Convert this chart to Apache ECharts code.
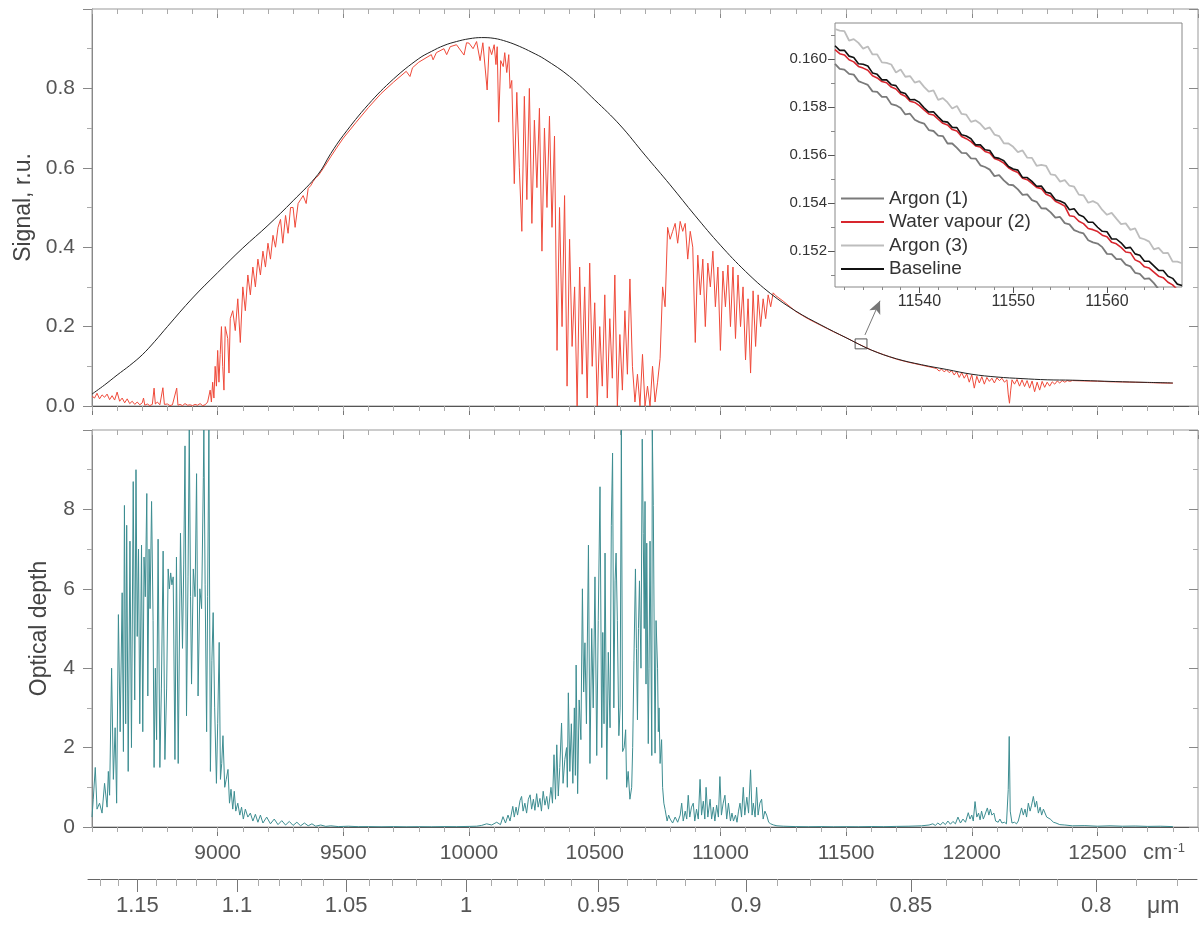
<!DOCTYPE html>
<html><head><meta charset="utf-8">
<script src="https://cdn.jsdelivr.net/npm/echarts@6/dist/echarts.min.js"></script>
<style>html,body{margin:0;padding:0;background:#fff}#c{width:1204px;height:926px}</style>
</head><body><div id="c"></div><script>
// ---------------- data ----------------
// wavenumber axis, cm-1
const wnMin = 8500, wnMax = 12900;
// micrometre tick labels (secondary axis) and minor ticks
const umLabels = [1.15, 1.1, 1.05, 1, 0.95, 0.9, 0.85, 0.8];
const umMinor = [1.17,1.16,1.14,1.13,1.12,1.11,1.09,1.08,1.07,1.06,1.04,1.03,1.02,1.01,0.99,0.98,0.97,0.96,0.94,0.93,0.92,0.91,0.89,0.88,0.87,0.86,0.84,0.83,0.82,0.81,0.79,0.78];

// baseline signal [cm-1, r.u.]
const baselineSignal = [[8500,0.030],[8550,0.053],[8600,0.078],[8650,0.102],[8700,0.129],[8750,0.163],[8800,0.200],[8900,0.272],[9000,0.336],[9100,0.398],[9200,0.455],[9300,0.517],[9400,0.584],[9450,0.636],[9500,0.682],[9600,0.760],[9700,0.824],[9800,0.875],[9850,0.893],[9900,0.908],[9950,0.918],[10000,0.925],[10050,0.928],[10100,0.926],[10150,0.918],[10200,0.906],[10250,0.891],[10300,0.874],[10400,0.830],[10500,0.771],[10600,0.708],[10700,0.632],[10800,0.557],[10900,0.479],[11000,0.405],[11100,0.339],[11200,0.283],[11300,0.239],[11400,0.204],[11500,0.172],[11600,0.141],[11700,0.119],[11800,0.104],[11900,0.092],[12000,0.080],[12100,0.073],[12200,0.069],[12300,0.066],[12400,0.065],[12500,0.063],[12600,0.061],[12700,0.0595],[12800,0.058]];

// measured signal with absorption [cm-1, r.u.]
const measuredSignal = [
[8500,0.025],[8510,0.02],[8520,0.032],[8530,0.018],[8540,0.028],[8550,0.022],[8560,0.03],[8570,0.016],[8580,0.026],[8590,0.015],
[8600,0.035],[8610,0.012],[8620,0.02],[8630,0.008],[8640,0.018],[8650,0.006],[8660,0.012],[8670,0.004],[8680,0.01],[8690,0.003],
[8700,0.008],[8705,0.02],[8710,0.002],[8720,0.005],[8730,0.001],[8740,0.004],[8747,0.045],[8752,0.005],[8760,0.01],[8770,0.003],[8782,0.046],[8788,0.004],[8795,0.002],
[8800,0.005],[8810,0.001],[8820,0.003],[8837,0.045],[8842,0.002],[8850,0.004],[8860,0.001],[8870,0.006],[8880,0.002],[8890,0.003],
[8900,0.001],[8910,0.004],[8920,0.002],[8930,0.006],[8940,0.001],[8950,0.003],[8960,0.01],[8970,0.04],[8975,0.01],[8980,0.06],[8985,0.02],[8990,0.1],[8995,0.05],
[9000,0.14],[9005,0.06],[9010,0.13],[9015,0.2],[9020,0.1],[9025,0.04],[9030,0.2],[9040,0.17],[9045,0.083],[9050,0.22],[9060,0.24],[9070,0.19],[9080,0.27],[9090,0.16],
[9100,0.3],[9110,0.24],[9120,0.33],[9130,0.28],[9140,0.35],[9150,0.3],[9160,0.37],[9170,0.33],[9180,0.39],[9190,0.35],
[9200,0.41],[9210,0.37],[9220,0.43],[9230,0.4],[9240,0.45],[9250,0.47],[9259,0.41],[9270,0.48],[9280,0.435],[9290,0.5],
[9300,0.5],[9308,0.45],[9320,0.51],[9330,0.52],[9340,0.53],[9352,0.51],[9360,0.548],[9370,0.555],[9380,0.566],[9390,0.575],[9400,0.58],
[9425,0.603],[9450,0.628],[9475,0.652],[9500,0.675],[9550,0.714],[9600,0.752],[9650,0.787],[9700,0.816],[9750,0.843],[9765,0.83],[9775,0.852],[9800,0.866],[9850,0.885],[9857,0.872],[9870,0.89],[9900,0.9],[9911,0.885],[9925,0.905],[9950,0.91],[9980,0.884],[9990,0.915],[10000,0.914],[10016,0.9],[10030,0.918],[10044,0.87],[10055,0.915],[10072,0.796],[10080,0.905],[10090,0.885],[10100,0.91],[10107,0.86],[10112,0.905],[10118,0.715],[10126,0.87],[10136,0.855],[10142,0.89],[10150,0.84],[10158,0.885],[10163,0.8],
[10170,0.82],[10180,0.56],[10190,0.79],[10200,0.6],[10210,0.44],[10220,0.78],[10230,0.52],[10240,0.8],[10250,0.46],[10260,0.72],[10270,0.55],[10280,0.75],[10290,0.39],[10300,0.7],[10310,0.5],[10320,0.73],[10330,0.45],[10340,0.68],[10350,0.14],[10360,0.5],[10370,0.2],[10380,0.53],[10390,0.05],[10400,0.42],[10410,0.15],[10420,0.3],[10430,0.0],[10440,0.35],
[10450,0.08],[10460,0.3],[10470,0.02],[10480,0.36],[10490,0.1],[10500,0.26],[10510,0.0],[10520,0.2],[10530,0.05],[10540,0.28],[10550,0.02],[10560,0.22],[10570,0.07],[10580,0.33],[10590,0.0],[10600,0.18],[10610,0.04],[10620,0.24],[10630,0.08],[10640,0.32],[10650,0.1],[10660,0.01],[10670,0.08],[10680,0.0],[10690,0.13],[10700,0.0],[10710,0.05],[10720,0.0],[10730,0.1],[10740,0.01],[10750,0.06],[10760,0.12],[10770,0.3],[10780,0.25],[10790,0.45],[10800,0.42],
[10810,0.44],[10820,0.46],[10830,0.41],[10840,0.465],[10850,0.44],[10860,0.46],[10870,0.37],[10880,0.44],[10890,0.4],[10900,0.16],[10910,0.38],[10920,0.28],[10930,0.37],[10940,0.2],[10950,0.36],[10960,0.3],[10970,0.39],[10980,0.25],[10990,0.35],[11000,0.14],[11010,0.34],[11020,0.25],[11030,0.355],[11040,0.2],[11050,0.35],[11060,0.17],[11070,0.33],[11080,0.2],[11090,0.3],[11100,0.116],[11110,0.27],[11120,0.083],[11130,0.29],[11140,0.15],[11150,0.28],[11160,0.2],[11170,0.27],[11180,0.22],[11190,0.28],[11200,0.25],[11210,0.285],[11220,0.278],
[11250,0.264],[11300,0.238],[11350,0.219],[11400,0.203],[11450,0.187],[11500,0.172],[11550,0.156],[11600,0.141],[11650,0.129],[11700,0.118],[11750,0.11],[11800,0.103],[11850,0.096],
[11860,0.094],[11870,0.088],[11880,0.093],[11890,0.086],[11900,0.091],[11910,0.084],[11920,0.089],[11930,0.078],[11940,0.087],[11950,0.072],[11960,0.084],[11970,0.07],[11980,0.081],[11990,0.06],[12000,0.079],[12010,0.045],[12020,0.075],[12030,0.058],[12040,0.074],[12050,0.055],[12060,0.072],[12070,0.062],[12080,0.07],[12090,0.058],[12100,0.071],[12110,0.064],[12120,0.07],[12130,0.06],[12140,0.066],[12145,0.03],[12150,0.007],[12155,0.04],[12160,0.066],[12170,0.055],[12180,0.067],[12190,0.05],[12200,0.066],[12210,0.049],[12220,0.064],[12230,0.045],[12240,0.063],[12250,0.036],[12260,0.06],[12270,0.04],[12280,0.062],[12290,0.047],[12300,0.06],[12310,0.05],[12320,0.061],[12330,0.055],[12340,0.063],[12350,0.058],[12360,0.064],[12370,0.06],[12380,0.064],[12390,0.062],[12400,0.064],
[12450,0.063],[12500,0.0625],[12550,0.061],[12600,0.0605],[12650,0.0598],[12700,0.059],[12750,0.058],[12800,0.0575]
];

// optical depth [cm-1, value]
const opticalDepth = [
[8500,0.25],[8505,0.7],[8513,1.5],[8520,0.45],[8530,0.6],[8540,0.35],[8550,1.1],[8560,0.5],[8565,1.4],[8570,0.8],[8578,4.0],[8585,1.2],[8592,2.5],[8598,0.6],
[8605,5.35],[8612,2.4],[8620,5.9],[8625,1.9],[8629,8.1],[8634,2.6],[8638,7.6],[8644,1.4],[8651,7.2],[8657,2.0],[8664,8.7],[8670,3.2],[8675,9.0],[8680,4.8],[8685,7.0],[8690,2.6],[8697,7.1],
[8702,2.4],[8707,6.8],[8712,5.8],[8718,8.4],[8722,3.3],[8727,7.0],[8731,5.5],[8737,8.2],[8743,5.2],[8747,1.5],[8752,4.0],[8757,2.2],[8763,7.25],[8770,1.5],[8776,3.5],[8783,6.95],[8790,1.7],[8797,3.5],
[8803,6.5],[8808,6.0],[8813,6.4],[8818,6.1],[8823,6.3],[8830,1.7],[8836,6.8],[8843,1.6],[8852,7.4],[8860,4.5],[8865,6.6],[8870,9.6],[8876,2.8],[8882,6.3],[8887,10],[8892,5.8],[8896,3.6],
[8903,6.5],[8910,5.8],[8916,8.9],[8922,3.3],[8929,6.0],[8936,5.5],[8943,8.8],[8945,10],[8950,6.1],[8956,2.4],[8960,5.8],[8965,10],[8971,1.4],[8977,4.2],[8982,5.4],[8988,3.0],[8995,1.1],
[9000,2.6],[9006,4.65],[9011,1.2],[9016,1.6],[9021,2.3],[9028,1.0],[9034,1.2],[9041,1.45],[9047,0.6],[9053,0.95],[9060,0.45],[9066,0.9],[9072,0.4],[9080,0.6],[9088,0.3],[9095,0.5],
[9102,0.2],[9110,0.45],[9120,0.25],[9130,0.35],[9140,0.15],[9150,0.32],[9160,0.12],[9170,0.3],[9180,0.1],[9195,0.25],[9210,0.08],[9225,0.2],[9240,0.06],[9255,0.16],[9270,0.05],[9285,0.14],
[9300,0.04],[9315,0.12],[9330,0.03],[9345,0.1],[9360,0.03],[9375,0.08],[9390,0.02],[9410,0.05],[9430,0.015],[9450,0.03],[9480,0.01],[9520,0.02],[9560,0.008],
[9600,0.01],[9650,0.005],[9700,0.01],[9750,0.004],[9800,0.008],[9850,0.005],[9900,0.01],[9950,0.008],[10000,0.015],[10030,0.02],
[10050,0.04],[10070,0.08],[10090,0.05],[10110,0.12],[10125,0.06],[10135,0.26],[10145,0.1],[10155,0.3],[10163,0.15],
[10174,0.52],[10180,0.25],[10187,0.5],[10193,0.3],[10203,0.67],[10209,0.77],[10215,0.4],[10222,0.6],[10229,0.35],[10236,0.7],[10243,0.81],[10249,0.45],[10256,0.7],[10262,0.42],[10269,0.84],[10275,0.5],[10282,0.72],[10288,0.4],[10295,0.9],[10302,0.55],[10309,0.77],[10316,0.45],
[10326,1.0],[10332,0.6],[10338,1.82],[10344,0.7],[10349,2.07],[10355,0.78],[10361,1.5],[10368,2.62],[10374,1.1],[10381,1.7],[10388,2.0],[10391,1.0],[10395,3.38],[10401,1.4],[10407,2.6],[10413,1.1],[10419,3.0],[10423,1.3],[10426,4.08],[10432,0.84],[10438,3.2],[10445,2.2],
[10451,6.0],[10456,3.4],[10461,4.64],[10467,2.6],[10475,7.1],[10481,1.6],[10488,5.0],[10494,3.0],[10501,6.3],[10508,1.8],[10514,5.2],[10521,8.57],[10528,2.0],[10532,4.9],[10537,2.6],[10541,6.9],[10548,1.2],[10554,4.4],[10561,2.5],[10566,7.6],[10571,9.42],[10576,3.0],
[10581,6.2],[10585,6.9],[10590,5.2],[10596,2.3],[10601,3.0],[10606,10],[10611,1.9],[10617,2.0],[10623,2.45],[10627,1.0],[10633,1.4],[10640,0.7],[10647,1.0],
[10651,2.0],[10656,4.2],[10662,6.5],[10666,4.5],[10670,2.7],[10674,5.0],[10678,6.2],[10684,4.0],[10689,9.77],[10693,7.4],[10697,5.0],[10700,8.2],[10704,3.6],[10707,7.15],[10713,2.1],[10716,4.0],[10720,7.2],[10727,1.8],[10729,10],[10733,8.1],
[10740,1.86],[10744,5.2],[10750,4.0],[10753,2.4],[10756,3.0],[10760,1.6],[10766,2.2],[10770,1.0],[10775,0.6],[10780,0.44],[10788,0.15],[10794,0.3],[10800,0.2],
[10810,0.1],[10820,0.25],[10830,0.12],[10840,0.3],[10846,0.6],[10852,0.15],[10860,0.4],[10866,0.2],[10872,0.8],[10878,0.25],[10885,0.5],[10892,0.6],[10898,0.15],[10905,0.45],[10912,0.2],[10919,1.2],[10925,0.3],[10932,0.65],[10938,0.2],[10943,1.0],[10950,0.25],[10959,0.7],[10965,0.2],[10972,0.5],[10978,0.15],[10985,0.55],[10992,0.25],[10998,1.27],
[11004,0.3],[11011,0.6],[11018,0.8],[11025,0.2],[11032,0.6],[11040,0.15],[11046,0.35],[11052,0.15],[11060,0.3],[11066,0.12],[11072,0.4],[11078,0.6],[11084,0.25],[11091,1.0],[11097,0.3],[11105,0.75],[11112,0.35],[11120,1.44],[11126,0.3],[11131,0.6],[11138,0.25],[11144,1.0],[11150,0.3],[11157,0.6],[11164,0.7],[11170,0.2],[11177,0.4],[11184,0.3],[11192,0.12],[11200,0.08],[11212,0.05],[11225,0.03],[11250,0.02],
[11300,0.01],[11350,0.006],[11400,0.01],[11450,0.005],[11500,0.008],[11550,0.006],[11600,0.012],[11650,0.008],[11700,0.015],[11750,0.02],[11800,0.03],[11830,0.05],
[11845,0.08],[11855,0.04],[11865,0.1],[11875,0.05],[11885,0.12],[11895,0.06],[11905,0.15],[11915,0.07],[11925,0.14],[11935,0.08],[11945,0.25],[11955,0.1],[11965,0.2],[11975,0.12],[11986,0.36],[11993,0.2],[12000,0.3],[12006,0.15],[12013,0.64],[12020,0.25],[12027,0.35],[12033,0.18],[12039,0.4],[12046,0.2],[12052,0.3],[12062,0.48],[12068,0.3],[12074,0.45],[12080,0.3],[12088,0.35],[12095,0.15],
[12105,0.12],[12112,0.2],[12120,0.1],[12130,0.12],[12138,0.08],[12145,0.94],[12149,2.28],[12153,0.4],[12160,0.1],[12170,0.12],[12178,0.08],[12185,0.15],[12192,0.2],[12198,0.48],[12205,0.3],[12212,0.45],[12218,0.25],[12225,0.6],[12232,0.4],[12238,0.55],[12245,0.77],[12252,0.5],[12258,0.65],[12265,0.35],[12272,0.5],[12278,0.3],[12285,0.45],[12291,0.5],[12298,0.25],
[12305,0.3],[12312,0.2],[12318,0.25],[12325,0.12],[12335,0.1],[12350,0.06],[12370,0.05],[12400,0.03],[12450,0.035],[12500,0.02],[12550,0.03],[12600,0.02],[12650,0.025],[12700,0.015],[12750,0.02],[12800,0.01]
];

// inset: sampling grid (cm-1) and the four traces
const insetWnStart = 11531, insetWnStep = 0.5;
const insetXTicks = [11540, 11550, 11560];
const insetXMinor = [11532,11534,11536,11538,11542,11544,11546,11548,11552,11554,11556,11558,11562,11564,11566];
const insetYTicks = [0.152, 0.154, 0.156, 0.158, 0.160];
const insetYMinor = [0.151, 0.153, 0.155, 0.157, 0.159, 0.161];
const argon1 = [0.1598,0.15959,0.15956,0.15938,0.15935,0.15908,0.159,0.15892,0.15865,0.15863,0.15842,0.15842,0.15812,0.15807,0.15796,0.15769,0.15772,0.15747,0.15737,0.15731,0.15704,0.157,0.15681,0.15679,0.15648,0.15648,0.1563,0.15609,0.15608,0.15586,0.15585,0.15557,0.1555,0.15539,0.15512,0.15516,0.15494,0.15477,0.15474,0.15457,0.15434,0.15436,0.15412,0.15405,0.15378,0.15377,0.15361,0.15339,0.15342,0.15316,0.15311,0.15287,0.15279,0.15273,0.15245,0.15236,0.15231,0.15216,0.15188,0.15187,0.15166,0.15166,0.15143,0.15136,0.15109,0.15105,0.15084,0.15086,0.15066,0.15041,0.1504,0.15019,0.15016,0.14989,0.14981];
const waterVapour = [0.16039,0.16022,0.16017,0.15997,0.15988,0.15969,0.15962,0.15953,0.1593,0.15921,0.15906,0.15901,0.15883,0.15875,0.15854,0.15845,0.15824,0.15819,0.15806,0.15788,0.15771,0.15767,0.15749,0.15732,0.15725,0.15706,0.157,0.15677,0.15668,0.15656,0.15638,0.15633,0.15615,0.15608,0.15585,0.15578,0.15566,0.15547,0.15535,0.15527,0.15503,0.15497,0.15482,0.15465,0.1546,0.15436,0.15428,0.15407,0.15398,0.15387,0.15347,0.15344,0.15324,0.15314,0.15294,0.15289,0.15281,0.15266,0.15259,0.15236,0.1523,0.15215,0.15196,0.15193,0.15163,0.15154,0.15134,0.15129,0.15112,0.15095,0.15089,0.1507,0.15059,0.15039,0.1503];
const argon3 = [0.16125,0.16118,0.16116,0.16077,0.16083,0.16067,0.16043,0.16052,0.16019,0.16019,0.15986,0.15984,0.15977,0.15944,0.15956,0.15926,0.15929,0.15902,0.15908,0.15884,0.15864,0.15869,0.1583,0.15837,0.15819,0.15794,0.15804,0.15771,0.15768,0.15738,0.15744,0.1573,0.15708,0.15715,0.15685,0.15679,0.15649,0.15648,0.15634,0.15612,0.15619,0.15589,0.15588,0.15555,0.15559,0.15555,0.15519,0.15516,0.15489,0.15495,0.15472,0.15468,0.15435,0.15432,0.15401,0.15408,0.15398,0.15371,0.15351,0.15359,0.15335,0.15312,0.15315,0.15288,0.15294,0.15255,0.15249,0.15239,0.15207,0.15213,0.15191,0.15192,0.15156,0.15156,0.15149];
const baselineInset = [0.16055,0.16036,0.16036,0.16012,0.16006,0.1598,0.15978,0.15971,0.15942,0.15936,0.15913,0.15913,0.15893,0.15889,0.15862,0.15856,0.1583,0.15831,0.15819,0.15797,0.15779,0.1578,0.15759,0.1574,0.15737,0.15715,0.15714,0.15684,0.15679,0.15668,0.15642,0.15642,0.15622,0.15619,0.1559,0.15586,0.15576,0.15552,0.15542,0.15537,0.15506,0.15506,0.1549,0.1547,0.15471,0.15445,0.1544,0.15414,0.15408,0.15399,0.15372,0.15376,0.15351,0.15343,0.1532,0.1532,0.15299,0.15282,0.1528,0.1525,0.1525,0.15234,0.15212,0.15215,0.15188,0.15182,0.15157,0.15157,0.15138,0.15119,0.15119,0.15095,0.15086,0.15062,0.15056];

// zoomed region marker and arrow (data coordinates of the top panel)
const zoomBox = { wn: [11536, 11583], signal: [0.144, 0.169] };
const zoomArrow = { from: [11575, 0.179], to: [11635, 0.265] };

// ---------------- chart ----------------
const FONT = '"Liberation Sans", Arial, Helvetica, sans-serif';
const LBL = '#555';
const insetWn = argon1.map((_, i) => insetWnStart + i * insetWnStep);
const pair = arr => arr.map((v, i) => [insetWn[i], v]);

function wnAxis(gi, pos, step, len, inside, tickColor, lineShow, labels) {
  return {
    type: 'value', gridIndex: gi, position: pos, min: wnMin, max: wnMax, interval: step,
    axisLine: { show: lineShow, lineStyle: { color: '#555', width: 1 } },
    axisTick: { show: true, inside: inside, length: len, lineStyle: { color: tickColor, width: 1 } },
    axisLabel: labels ? { show: true, margin: 16, fontSize: 21, color: LBL, fontFamily: FONT,
      showMinLabel: false, showMaxLabel: false, formatter: v => String(v) } : { show: false },
    splitLine: { show: false }, minorTick: { show: false }, axisPointer: { show: false }
  };
}
function yAx(gi, pos, max, step, inside, labels, fmt, name, nameGap) {
  return {
    type: 'value', gridIndex: gi, position: pos, min: 0, max: max, interval: step,
    axisLine: { show: !inside, lineStyle: { color: '#888', width: 1 } },
    axisTick: { show: true, inside: inside, length: 9, lineStyle: { color: '#888', width: 1 } },
    minorTick: { show: true, splitNumber: 2, length: 5, lineStyle: { color: '#aaa', width: 1 } },
    axisLabel: labels ? { show: true, margin: 17, fontSize: 21, color: LBL, fontFamily: FONT,
      showMaxLabel: false, formatter: fmt } : { show: false },
    splitLine: { show: false },
    name: name || '', nameLocation: 'middle', nameGap: nameGap || 0,
    nameTextStyle: { fontSize: 23, color: '#444', fontFamily: FONT }
  };
}
function customAx(gi, pos, min, max, ticks, len, inside, color, label, lineShow) {
  return {
    type: 'value', gridIndex: gi, position: pos, min: min, max: max,
    axisLine: { show: !!lineShow, lineStyle: { color: '#666', width: 1 } },
    axisTick: { show: true, inside: inside, length: len, customValues: ticks, lineStyle: { color: color, width: 1 } },
    axisLabel: label ? Object.assign({ show: true, customValues: ticks, fontFamily: FONT }, label) : { show: false },
    splitLine: { show: false }, minorTick: { show: false }
  };
}
const umTickVals = umLabels.map(u => 1e4 / u);
const umMinorVals = umMinor.map(u => 1e4 / u);

const option = {
  animation: false,
  backgroundColor: '#fff',
  grid: [
    { left: 92, top: 9, width: 1106, height: 397, show: true, borderColor: '#999', borderWidth: 1, backgroundColor: 'transparent', outerBoundsMode: 'none', containLabel: false },
    { left: 92, top: 430, width: 1106, height: 397, show: true, borderColor: '#999', borderWidth: 1, backgroundColor: 'transparent', outerBoundsMode: 'none', containLabel: false },
    { left: 88, top: 860, width: 1109, height: 19, show: false, outerBoundsMode: 'none', containLabel: false },
    { left: 835, top: 23, width: 347, height: 264, show: true, borderColor: '#888', borderWidth: 1, backgroundColor: '#fff', outerBoundsMode: 'none', containLabel: false, z: 5 }
  ],
  title: [
    { text: '{a|cm}{b|-1}', left: 1143, top: 842, padding: 0,
      textStyle: { rich: { a: { fontSize: 22, color: LBL, fontFamily: FONT, fontWeight: 'normal' },
                           b: { fontSize: 13, color: LBL, fontFamily: FONT, fontWeight: 'normal', verticalAlign: 'top', padding: [0, 0, 0, 1] } } } },
    { text: 'μm', left: 1147, top: 895, padding: 0,
      textStyle: { fontSize: 23, color: LBL, fontFamily: FONT, fontWeight: 'normal' } }
  ],
  legend: {
    show: true, orient: 'vertical', left: 841, top: 189, itemWidth: 43, itemHeight: 2, itemGap: 4.5,
    icon: 'rect', selectedMode: false, padding: 0, z: 10,
    textStyle: { fontSize: 19, color: '#333', fontFamily: FONT },
    data: ['Argon (1)', 'Water vapour (2)', 'Argon (3)', 'Baseline']
  },
  xAxis: [
    wnAxis(0, 'bottom', 500, 9, false, '#777', true, false),   // 0
    wnAxis(0, 'bottom', 100, 5, false, '#aaa', false, false),  // 1
    wnAxis(0, 'top', 500, 9, true, '#888', false, false),      // 2
    wnAxis(0, 'top', 100, 5, true, '#aaa', false, false),      // 3
    wnAxis(1, 'bottom', 500, 9, false, '#777', true, true),    // 4
    wnAxis(1, 'bottom', 100, 5, false, '#aaa', false, false),  // 5
    wnAxis(1, 'top', 500, 9, true, '#888', false, false),      // 6
    wnAxis(1, 'top', 100, 5, true, '#aaa', false, false),      // 7
    customAx(2, 'bottom', wnMin, wnMax, umTickVals, 13, false, '#777',
      { margin: 16, fontSize: 22, color: LBL, formatter: v => String(parseFloat((1e4 / v).toFixed(2))) }, true), // 8
    customAx(2, 'bottom', wnMin, wnMax, umMinorVals, 7, false, '#aaa', null, false), // 9
    customAx(3, 'bottom', 11531, 11568, insetXTicks, 6, false, '#555',
      { margin: 7, fontSize: 16, color: '#333', formatter: v => String(Math.round(v)) }, false), // 10
    customAx(3, 'bottom', 11531, 11568, insetXMinor, 3, false, '#888', null, false), // 11
    customAx(3, 'top', 11531, 11568, insetXTicks, 6, true, '#555', null, false), // 12
    customAx(3, 'top', 11531, 11568, insetXMinor, 3, true, '#888', null, false)  // 13
  ],
  yAxis: [
    yAx(0, 'left', 1, 0.2, false, true, v => v.toFixed(1), 'Signal, r.u.', 48), // 0
    yAx(0, 'right', 1, 0.2, true, false),                                         // 1
    yAx(1, 'left', 10, 2, false, true, v => String(v), 'Optical depth', 41),      // 2
    yAx(1, 'right', 10, 2, true, false),                                          // 3
    { type: 'value', gridIndex: 2, min: 0, max: 1, show: false },                 // 4
    customAx(3, 'left', 0.1505, 0.1615, insetYTicks, 7, false, '#555',
      { margin: 8, fontSize: 15, color: '#333', formatter: v => v.toFixed(3) }, false), // 5
    customAx(3, 'left', 0.1505, 0.1615, insetYMinor, 4, false, '#888', null, false), // 6
    customAx(3, 'right', 0.1505, 0.1615, insetYTicks, 7, true, '#555', null, false), // 7
    customAx(3, 'right', 0.1505, 0.1615, insetYMinor, 4, true, '#888', null, false)  // 8
  ],
  series: [
    { type: 'line', name: 'signal', xAxisIndex: 0, yAxisIndex: 0, data: measuredSignal,
      showSymbol: false, symbol: 'none', lineStyle: { color: '#ef4a3a', width: 1 }, emphasis: { disabled: true }, z: 2 },
    { type: 'line', name: 'baselineMain', xAxisIndex: 0, yAxisIndex: 0, data: baselineSignal, smooth: 0.4,
      showSymbol: false, symbol: 'none', lineStyle: { color: '#222', width: 1 }, emphasis: { disabled: true }, z: 3,
      markArea: { silent: true, label: { show: false },
        itemStyle: { color: 'rgba(0,0,0,0)', borderColor: '#555', borderWidth: 1 },
        data: [[{ coord: [zoomBox.wn[0], zoomBox.signal[1]] }, { coord: [zoomBox.wn[1], zoomBox.signal[0]] }]] },
      markLine: { silent: true, symbol: ['none', 'arrow'], symbolSize: [9, 13], label: { show: false },
        lineStyle: { color: '#777', width: 1, type: 'solid' },
        data: [[{ coord: zoomArrow.from }, { coord: zoomArrow.to }]] } },
    { type: 'line', name: 'tau', xAxisIndex: 4, yAxisIndex: 2, data: opticalDepth,
      showSymbol: false, symbol: 'none', lineStyle: { color: '#3d8d91', width: 1 }, emphasis: { disabled: true } },
    { type: 'line', name: 'um', xAxisIndex: 8, yAxisIndex: 4, data: [] },
    { type: 'line', name: 'Argon (3)', xAxisIndex: 10, yAxisIndex: 5, data: pair(argon3), z: 6,
      showSymbol: false, symbol: 'none', color: '#bdbdbd', lineStyle: { color: '#bdbdbd', width: 1.8 }, emphasis: { disabled: true } },
    { type: 'line', name: 'Argon (1)', xAxisIndex: 10, yAxisIndex: 5, data: pair(argon1), z: 6,
      showSymbol: false, symbol: 'none', color: '#7a7a7a', lineStyle: { color: '#7a7a7a', width: 1.8 }, emphasis: { disabled: true } },
    { type: 'line', name: 'Water vapour (2)', xAxisIndex: 10, yAxisIndex: 5, data: pair(waterVapour), z: 6,
      showSymbol: false, symbol: 'none', color: '#d8262e', lineStyle: { color: '#d8262e', width: 1.6 }, emphasis: { disabled: true } },
    { type: 'line', name: 'Baseline', xAxisIndex: 10, yAxisIndex: 5, data: pair(baselineInset), z: 6,
      showSymbol: false, symbol: 'none', color: '#111', lineStyle: { color: '#111', width: 1.6 }, emphasis: { disabled: true } }
  ]
};
const chart = echarts.init(document.getElementById('c'), null, { renderer: 'canvas' });
chart.setOption(option);
</script></body></html>
